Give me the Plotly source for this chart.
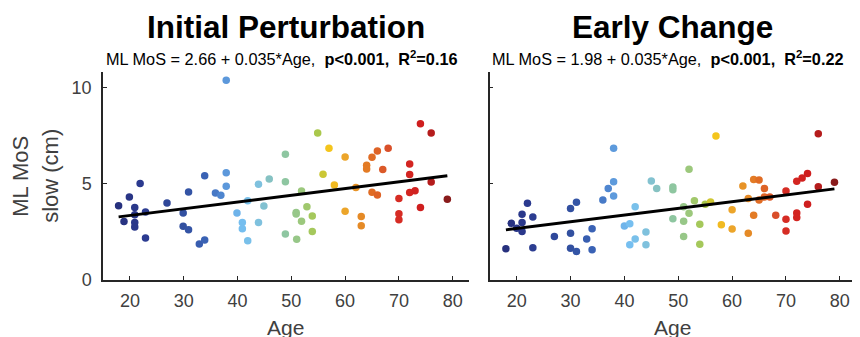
import plotly.graph_objects as go

# ---------------- data ----------------
ages_initial = [17.9, 18.9, 19.9, 20.9, 20.9, 20.9, 20.9, 21.9, 22.9, 22.9, 26.9, 29.9, 29.9, 30.9, 30.9,
                32.9, 33.9, 33.9, 35.9, 36.9, 37.9, 37.9, 37.9, 39.9, 40.9, 40.9, 41.9, 41.9, 43.9, 43.9,
                44.9, 45.9, 48.9, 48.9, 48.9, 50.9, 50.9, 51.0, 51.9, 51.9, 52.9, 53.9, 53.9, 54.9, 55.9,
                57.0, 58.0, 60.0, 60.0, 62.0, 63.0, 63.0, 64.0, 64.0, 65.0, 65.0, 66.0, 66.0, 67.0, 68.0,
                70.0, 70.0, 70.0, 72.0, 72.0, 72.0, 73.0, 74.0, 74.0, 76.0, 76.0, 79.0]
mos_initial = [3.87, 3.04, 4.32, 3.78, 3.40, 3.00, 2.76, 5.03, 3.54, 2.19, 4.01, 3.49, 2.80, 4.58, 2.62,
               1.88, 2.08, 5.43, 4.53, 4.41, 4.88, 5.59, 10.4, 3.49, 3.00, 2.67, 4.13, 2.05, 4.98, 3.00,
               3.85, 5.26, 6.55, 5.12, 2.40, 3.52, 3.44, 2.12, 4.64, 3.06, 3.82, 3.33, 2.52, 7.66, 5.50,
               6.86, 4.95, 6.41, 3.58, 4.81, 3.30, 2.83, 5.97, 5.78, 6.39, 4.57, 6.72, 4.43, 5.75, 6.86,
               4.24, 3.45, 3.14, 6.04, 5.49, 4.55, 4.65, 8.14, 3.78, 7.66, 5.10, 4.20]

ages_early = [18.0, 19.0, 20.0, 21.0, 21.0, 21.0, 22.0, 23.0, 23.0, 27.0, 30.0, 30.0, 30.0, 31.1, 31.1,
              33.0, 34.0, 34.0, 36.0, 37.0, 38.0, 38.0, 38.0, 40.0, 41.0, 41.0, 42.0, 42.0, 44.0, 44.0,
              45.0, 46.0, 49.0, 49.0, 49.0, 51.0, 51.0, 51.0, 52.0, 52.0, 53.0, 54.0, 54.0, 55.0, 56.0,
              57.0, 58.0, 60.0, 60.0, 62.0, 63.0, 63.0, 64.0, 64.0, 65.0, 65.0, 66.0, 66.0, 67.0, 68.1,
              70.0, 70.0, 70.0, 72.0, 72.0, 72.0, 73.0, 74.0, 74.0, 76.0, 76.0, 79.0]
mos_early = [1.63, 2.95, 2.69, 3.42, 2.99, 2.52, 3.99, 3.28, 1.68, 2.27, 3.72, 2.43, 1.65, 4.05, 1.49,
             2.14, 2.67, 1.58, 4.17, 4.77, 6.86, 5.12, 4.38, 2.81, 2.93, 1.84, 3.82, 2.14, 2.50, 1.84,
             5.16, 4.77, 4.84, 4.70, 3.19, 3.82, 3.06, 2.26, 5.76, 3.47, 4.13, 2.90, 1.86, 3.94, 4.06,
             7.50, 2.88, 3.66, 2.66, 4.90, 4.24, 2.43, 5.23, 3.37, 5.21, 4.17, 4.76, 4.32, 4.32, 3.37,
             4.64, 3.16, 2.55, 5.14, 3.49, 3.26, 5.31, 5.54, 3.94, 7.62, 4.86, 5.09]

panel_titles = ["Initial Perturbation", "Early Change"]
intercepts = [2.66, 1.98]
slopes = [0.035, 0.035]
r_squared = ["0.16", "0.22"]
p_values = ["p&lt;0.001", "p&lt;0.001"]
x_ticks = [20, 30, 40, 50, 60, 70, 80]
y_ticks = [0, 5, 10]

# ---------------- style ----------------
AGE_MIN, AGE_MAX = 17, 80
anchors = [(17, "#262f7a"), (22, "#2b3a8f"), (30, "#3250a0"), (34, "#3a62b5"), (37, "#4f86d0"),
           (38.5, "#64a4e2"), (41, "#76bff0"), (44, "#7fc1dd"), (46, "#86c2c2"), (49, "#8ec6a0"),
           (52, "#9cc87c"), (55, "#aac84a"), (57, "#f4c51c"), (60, "#eca52a"), (63, "#e58a26"),
           (65, "#e06c24"), (68, "#d9502a"), (70, "#d62c24"), (74, "#cf1e1e"), (76, "#b51c1c"),
           (80, "#7a1a1a")]
colorscale = [[(a - AGE_MIN) / (AGE_MAX - AGE_MIN), c] for a, c in anchors]

FONT = "Liberation Sans, Arial, sans-serif"
TXT = "#404040"
AX = "#262626"

OFF = 8  # page body margin
W, H = 852, 329
ML, MR, MT, MB = 94.5, 4, 63.7, 57.3
PW = W - ML - MR
PH = H - MT - MB


def px_x(p):  # screenshot pixel -> paper x
    return (p - OFF - ML) / PW


def px_y(p):  # screenshot pixel -> paper y
    return (H - MB - (p - OFF)) / PH


doms = [[0, px_x(468.6)], [px_x(489.5), 1]]

fig = go.Figure()
datasets = [(ages_initial, mos_initial), (ages_early, mos_early)]

for i, (ax_ages, ax_mos) in enumerate(datasets):
    xa = "x" if i == 0 else "x2"
    ya = "y" if i == 0 else "y2"
    fig.add_trace(go.Scatter(
        x=ax_ages, y=ax_mos, mode="markers", xaxis=xa, yaxis=ya,
        marker=dict(size=7.5, color=ax_ages, colorscale=colorscale, cmin=AGE_MIN, cmax=AGE_MAX,
                    line=dict(width=0)),
        showlegend=False, hoverinfo="x+y"))
    x0, x1 = min(ax_ages), max(ax_ages)
    fig.add_trace(go.Scatter(
        x=[x0, x1], y=[intercepts[i] + slopes[i] * x0, intercepts[i] + slopes[i] * x1],
        mode="lines", xaxis=xa, yaxis=ya, line=dict(color="black", width=3),
        showlegend=False, hoverinfo="skip"))

axis_common = dict(showline=True, linecolor=AX, linewidth=1.5, ticks="inside", ticklen=4,
                   tickcolor=AX, tickwidth=1, showgrid=False, zeroline=False,
                   tickfont=dict(family=FONT, size=18, color=TXT))
fig.update_layout(
    width=W, height=H, margin=dict(l=ML, r=MR, t=MT, b=MB),
    paper_bgcolor="white", plot_bgcolor="white",
    xaxis=dict(domain=doms[0], range=[15, 83], tickvals=x_ticks, anchor="y",
               ticklabelstandoff=4, **axis_common),
    xaxis2=dict(domain=doms[1], range=[15, 83], tickvals=x_ticks, anchor="y2",
                ticklabelstandoff=4, **axis_common),
    yaxis=dict(domain=[0, 1], range=[0, 10.83], tickvals=y_ticks, anchor="x",
               ticklabelstandoff=6, **axis_common),
    yaxis2=dict(domain=[0, 1], range=[0, 10.83], tickvals=y_ticks, showticklabels=False,
                anchor="x2", **axis_common),
)

annos = []
sub_x = [106, 492]
for i in range(2):
    cx = (doms[i][0] + doms[i][1]) / 2
    annos.append(dict(text="<b>" + panel_titles[i] + "</b>", x=cx, y=px_y(27), xref="paper", yref="paper",
                      showarrow=False, xanchor="center", yanchor="middle",
                      font=dict(family=FONT, size=31.5, color="black")))
    sub = ("ML MoS = %.2f + %.3f*Age,  <b>%s,  R<sup>2</sup>=%s</b>"
           % (intercepts[i], slopes[i], p_values[i], r_squared[i]))
    annos.append(dict(text=sub, x=px_x(sub_x[i]), y=px_y(58), xref="paper", yref="paper",
                      showarrow=False, xanchor="left", yanchor="middle", xshift=-2,
                      font=dict(family=FONT, size=16.3, color="black")))
    annos.append(dict(text="Age", x=cx, y=px_y(327), xref="paper", yref="paper", showarrow=False,
                      xanchor="center", yanchor="middle", font=dict(family=FONT, size=21, color=TXT)))

annos.append(dict(text="ML MoS", x=px_x(20), y=px_y(176), xref="paper", yref="paper", showarrow=False,
                  textangle=-90, xanchor="center", yanchor="middle",
                  font=dict(family=FONT, size=22, color=TXT)))
annos.append(dict(text="slow (cm)", x=px_x(50), y=px_y(176), xref="paper", yref="paper", showarrow=False,
                  textangle=-90, xanchor="center", yanchor="middle",
                  font=dict(family=FONT, size=22, color=TXT)))
fig.update_layout(annotations=annos)

fig.write_html("out.html")
